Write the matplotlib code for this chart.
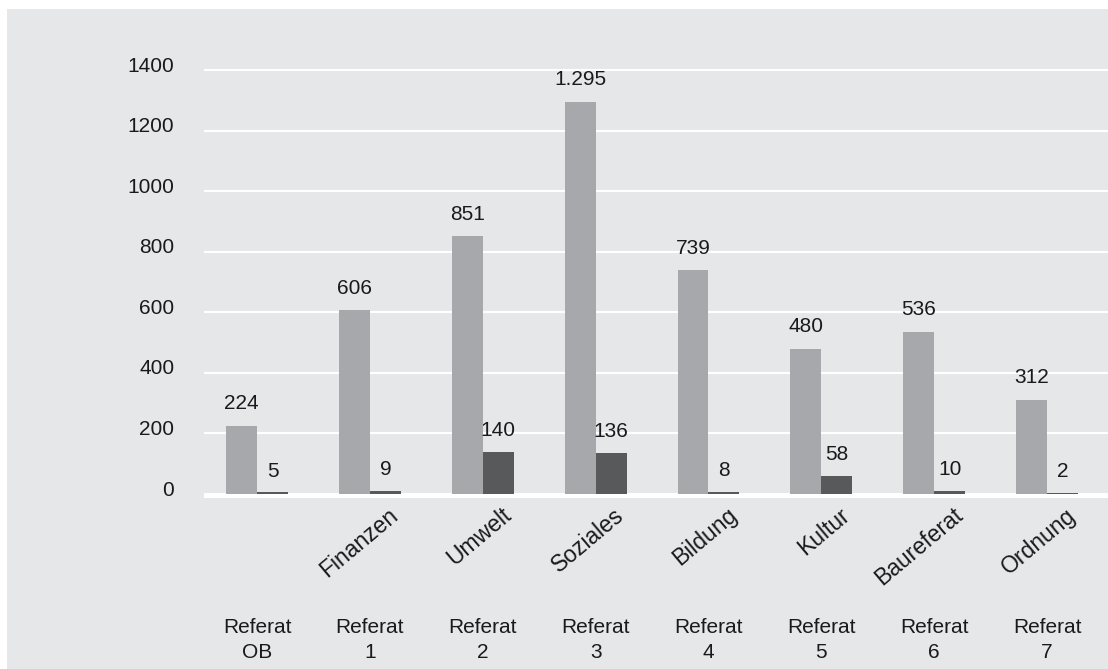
import numpy as np
import matplotlib
matplotlib.use("Agg")
import matplotlib.pyplot as plt
import matplotlib.transforms as mtransforms
from matplotlib.patches import Rectangle

# data
departments = ["", "Finanzen", "Umwelt", "Soziales", "Bildung", "Kultur", "Baureferat", "Ordnung"]
referate = ["Referat\nOB", "Referat\n1", "Referat\n2", "Referat\n3",
            "Referat\n4", "Referat\n5", "Referat\n6", "Referat\n7"]
light_values = [224, 606, 851, 1295, 739, 480, 536, 312]
dark_values = [5, 9, 140, 136, 8, 58, 10, 2]
light_labels = ["224", "606", "851", "1.295", "739", "480", "536", "312"]
dark_labels = ["5", "9", "140", "136", "8", "58", "10", "2"]
yticks = [0, 200, 400, 600, 800, 1000, 1200, 1400]

plt.rcParams['font.family'] = ['Liberation Sans', 'DejaVu Sans']
bg = "#e6e7e9"
light_col = "#a7a8ab"
dark_col = "#58595b"
txt_col = "#1a1a1a"
fs = 15

fig = plt.figure(figsize=(11.08, 6.69), dpi=100)
fig.patches.append(Rectangle((7 / 1108, 0), 1, (669 - 9) / 669,
                             transform=fig.transFigure, facecolor=bg,
                             edgecolor="none", zorder=-10))

ax = fig.add_axes([204 / 1108, (669 - 500.06) / 669, 904 / 1108, 445.2 / 669])
ax.set_facecolor("none")
for s in ax.spines.values():
    s.set_visible(False)

x = np.arange(len(light_values))
w = 0.274
ax.bar(x - w / 2, light_values, w, color=light_col, zorder=2)
ax.bar(x + w / 2, dark_values, w, color=dark_col, zorder=2)

for yv in yticks[1:]:
    ax.axhline(yv, color="white", lw=1.5, zorder=0.5)
ax.axhline(-4, color="white", lw=3.6, zorder=0.5)

ax.set_xlim(-0.47, 7.54)
ax.set_ylim(-20, 1450)

ax.set_yticks(yticks)
ax.set_yticklabels([str(v) for v in yticks], fontsize=fs, color=txt_col)
ax.tick_params(axis="y", length=0, pad=21.5)
ax.tick_params(axis="x", length=0)
ax.set_xticks([])
off = mtransforms.ScaledTranslation(0, 6 / 100, fig.dpi_scale_trans)
for lab in ax.get_yticklabels():
    lab.set_transform(lab.get_transform() + off)

for i in range(len(x)):
    ax.annotate(light_labels[i], (x[i] - w / 2, light_values[i]), xytext=(0, 12),
                textcoords="offset points", ha="center", va="baseline",
                fontsize=fs, color=txt_col)
    ax.annotate(dark_labels[i], (x[i] + w / 2, dark_values[i]), xytext=(0, 11.5),
                textcoords="offset points", ha="center", va="baseline",
                fontsize=fs, color=txt_col)

tr = ax.get_xaxis_transform()
for i in range(len(x)):
    if departments[i]:
        ax.text(x[i] + 0.16, -0.008, departments[i], transform=tr, rotation=40,
                rotation_mode="anchor", ha="right", va="top",
                fontsize=16.5, color=txt_col)
    ax.text(x[i], -0.314, referate[i], transform=tr, ha="center", va="center",
            fontsize=fs, color=txt_col, linespacing=1.38)

fig.savefig("out.png", dpi=100, facecolor="white")
